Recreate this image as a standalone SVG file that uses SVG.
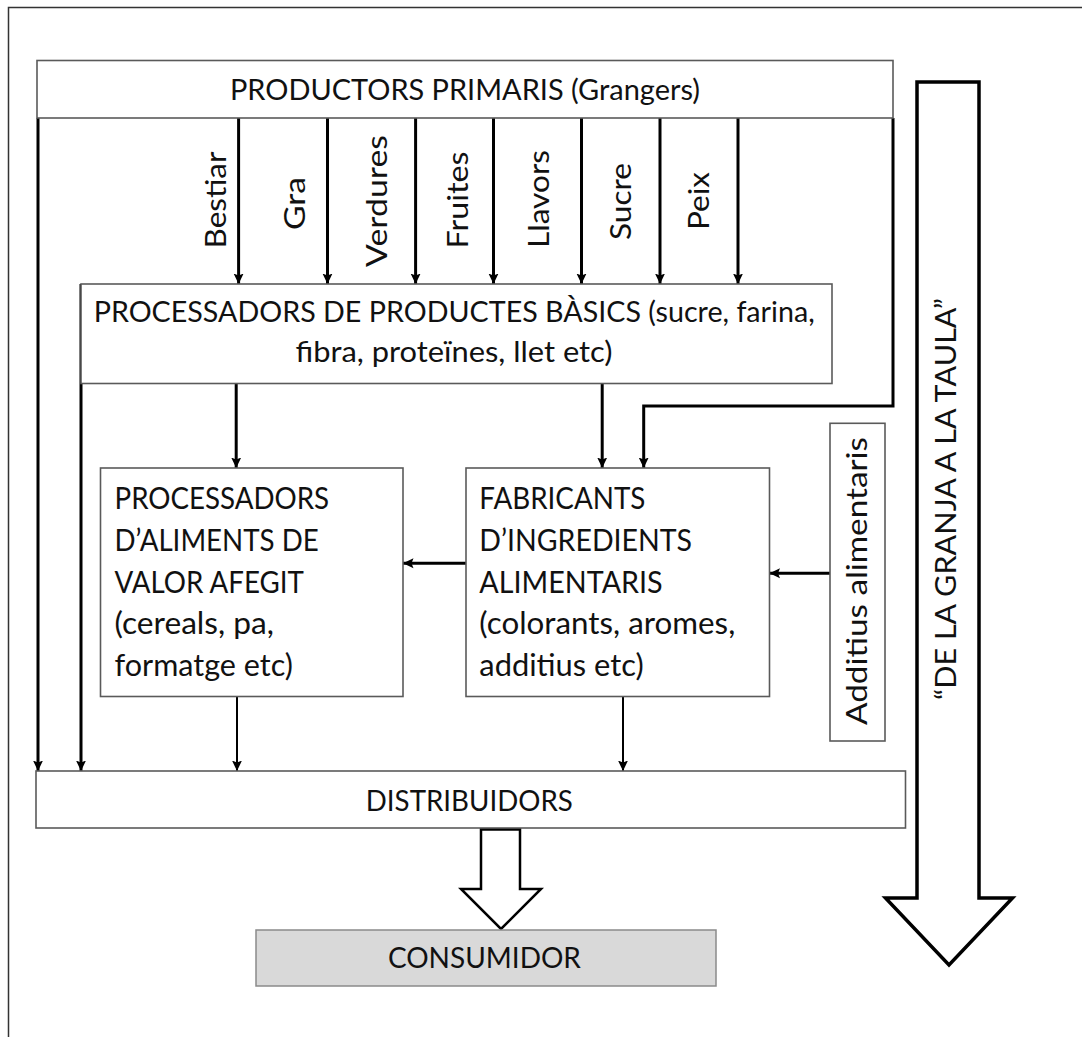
<svg xmlns="http://www.w3.org/2000/svg" width="1082" height="1037" viewBox="0 0 1082 1037">
  <defs>
    <marker id="ah" markerUnits="userSpaceOnUse" markerWidth="11" markerHeight="11" viewBox="0 0 11 11" refX="10.5" refY="5.5" orient="auto">
      <path d="M0,0.5 L10.5,5.5 L0,10.5 L2,5.5 z" fill="#000"/>
    </marker>
    <style>
      .box{fill:#fff;stroke:#5a5a5a;stroke-width:1.6}
      .t{font-family:Lato,"Liberation Sans",sans-serif;font-size:29px;fill:#111}
      .t30{font-size:30px}
      .c{fill:none;stroke:#000;stroke-width:3;marker-end:url(#ah)}
      .c2{fill:none;stroke:#000;stroke-width:2;marker-end:url(#ah)}
      .hollow{fill:#fff;stroke:#000;stroke-width:2.5;stroke-linejoin:miter}
    </style>
  </defs>

  <rect width="1082" height="1037" fill="#fff"/>
  <!-- outer frame -->
  <path d="M8.5,1037 V7.5 H1082" fill="none" stroke="#333" stroke-width="1.5"/>

  <!-- connectors -->
  <g id="connectors">
    <path class="c" d="M238.6,118 V284"/>
    <path class="c" d="M327.5,118 V284"/>
    <path class="c" d="M415.6,118 V284"/>
    <path class="c" d="M493.5,118 V284"/>
    <path class="c" d="M581.5,118 V284"/>
    <path class="c" d="M660,118 V284"/>
    <path class="c" d="M738,118 V284"/>
    <path class="c" d="M38,118 V771"/>
    <path class="c" d="M81,284 V771"/>
    <path class="c" d="M236.2,383 V468"/>
    <path class="c" d="M602.2,383 V468"/>
    <path class="c" d="M893,118 V406 H643.7 V468"/>
    <path class="c" d="M466,563.3 H403"/>
    <path class="c" d="M830,573.3 H769.5"/>
    <path class="c2" d="M237,696.5 V771"/>
    <path class="c2" d="M623,696.5 V771"/>
    <path class="hollow" d="M481,828 H520 V889 H541 L501,929 L461,889 H481 Z"/>
    <path d="M481,829 H520" stroke="#000" stroke-width="3.5"/>
  </g>

  <!-- labels on the primary product arrows -->
  <g id="product-labels" class="t">
    <text transform="translate(225.5,200) rotate(-90)" text-anchor="middle" textLength="97" lengthAdjust="spacingAndGlyphs">Bestiar</text>
    <text transform="translate(305,203.5) rotate(-90)" text-anchor="middle" textLength="53" lengthAdjust="spacingAndGlyphs">Gra</text>
    <text transform="translate(387,201) rotate(-90)" text-anchor="middle" textLength="132" lengthAdjust="spacingAndGlyphs">Verdures</text>
    <text transform="translate(468,200) rotate(-90)" text-anchor="middle" textLength="97" lengthAdjust="spacingAndGlyphs">Fruites</text>
    <text transform="translate(549,199) rotate(-90)" text-anchor="middle" textLength="98" lengthAdjust="spacingAndGlyphs">Llavors</text>
    <text transform="translate(630.6,201.5) rotate(-90)" text-anchor="middle" textLength="77" lengthAdjust="spacingAndGlyphs">Sucre</text>
    <text transform="translate(709,201) rotate(-90)" text-anchor="middle" textLength="58" lengthAdjust="spacingAndGlyphs">Peix</text>
  </g>

  <g id="producers">
    <rect class="box" x="37" y="60.5" width="856" height="57.5" stroke-width="2"/>
    <text class="t" x="230" y="100" textLength="470" lengthAdjust="spacingAndGlyphs">PRODUCTORS PRIMARIS (Grangers)</text>
  </g>

  <g id="basic-processors">
    <rect class="box" x="81" y="284" width="751" height="99.5"/>
    <text class="t" x="93.7" y="321.5" textLength="721" lengthAdjust="spacingAndGlyphs">PROCESSADORS DE PRODUCTES BÀSICS (sucre, farina,</text>
    <text class="t" x="295.5" y="362" textLength="317" lengthAdjust="spacingAndGlyphs">fibra, proteïnes, llet etc)</text>
  </g>

  <g id="value-added-processors">
    <rect class="box" x="100.5" y="468" width="302.5" height="228.5"/>
    <text class="t t30" x="114.5" y="508.5" textLength="214.6" lengthAdjust="spacingAndGlyphs">PROCESSADORS</text>
    <text class="t t30" x="114.5" y="551" textLength="204.2" lengthAdjust="spacingAndGlyphs">D’ALIMENTS DE</text>
    <text class="t t30" x="114.5" y="592.7" textLength="189.4" lengthAdjust="spacingAndGlyphs">VALOR AFEGIT</text>
    <text class="t t30" x="114.5" y="634.4" textLength="159.5" lengthAdjust="spacingAndGlyphs">(cereals, pa,</text>
    <text class="t t30" x="114.5" y="676.1" textLength="178.4" lengthAdjust="spacingAndGlyphs">formatge etc)</text>
  </g>

  <g id="ingredient-makers">
    <rect class="box" x="466" y="468" width="303.5" height="228.5"/>
    <text class="t t30" x="479.3" y="508.5" textLength="166" lengthAdjust="spacingAndGlyphs">FABRICANTS</text>
    <text class="t t30" x="479.3" y="551" textLength="212.7" lengthAdjust="spacingAndGlyphs">D’INGREDIENTS</text>
    <text class="t t30" x="479.3" y="592.7" textLength="183.4" lengthAdjust="spacingAndGlyphs">ALIMENTARIS</text>
    <text class="t t30" x="479.3" y="634.4" textLength="256" lengthAdjust="spacingAndGlyphs">(colorants, aromes,</text>
    <text class="t t30" x="479.3" y="676.1" textLength="164.4" lengthAdjust="spacingAndGlyphs">additius etc)</text>
  </g>

  <g id="additives">
    <rect class="box" x="830" y="423.3" width="55" height="317.7" stroke-width="2"/>
    <text class="t" transform="translate(866.6,581) rotate(-90)" text-anchor="middle" textLength="288" lengthAdjust="spacingAndGlyphs">Additius alimentaris</text>
  </g>

  <g id="distributors">
    <rect class="box" x="36" y="771" width="869.5" height="57"/>
    <text class="t" x="365.8" y="810.7" textLength="207" lengthAdjust="spacingAndGlyphs">DISTRIBUIDORS</text>
  </g>

  <g id="consumer">
    <rect x="256" y="930" width="460" height="56" fill="#d9d9d9" stroke="#8a8a8a" stroke-width="1.5"/>
    <text class="t" x="387.9" y="968.3" textLength="193" lengthAdjust="spacingAndGlyphs">CONSUMIDOR</text>
  </g>

  <g id="farm-to-table">
    <path d="M917,82 H979 V898 H1012.5 L949,965 L885.5,898 H917 Z" fill="#fff" stroke="#000" stroke-width="3.5"/>
    <text class="t" transform="translate(956,499) rotate(-90)" text-anchor="middle" font-size="31" textLength="402" lengthAdjust="spacingAndGlyphs">“DE LA GRANJA A LA TAULA”</text>
  </g>
</svg>
